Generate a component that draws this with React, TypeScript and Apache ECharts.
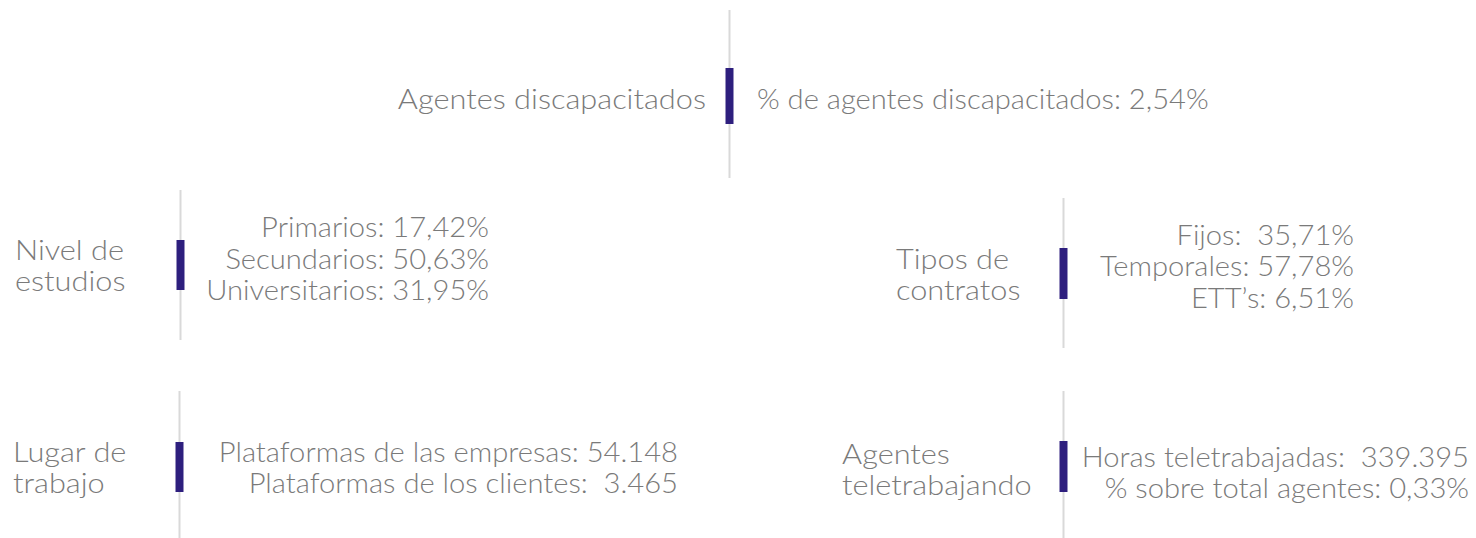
import React, { useEffect, useRef } from "react";
import * as echarts from "echarts";

// ---- Data ----
const panelTitles: string[][] = [
  ["Agentes discapacitados"],
  ["Nivel de", "estudios"],
  ["Tipos de", "contratos"],
  ["Lugar de", "trabajo"],
  ["Agentes", "teletrabajando"],
];

const panelLines: string[][] = [
  ["% de agentes discapacitados: 2,54%"],
  ["Primarios: 17,42%", "Secundarios: 50,63%", "Universitarios: 31,95%"],
  ["Fijos:  35,71%", "Temporales: 57,78%", "ETT’s: 6,51%"],
  ["Plataformas de las empresas: 54.148", "Plataformas de los clientes:  3.465"],
  ["Horas teletrabajadas:  339.395", "% sobre total agentes: 0,33%"],
];

// ---- Layout (positions only) ----
type Layout = {
  axisX: number; lineTop: number; lineBottom: number; barTop: number; barBottom: number;
  titleX: number; titleAlign: "left" | "right"; titleY: number;
  textX: number; textAlign: "left" | "right"; textY: number;
};
const layout: Layout[] = [
  { axisX: 729.5, lineTop: 10, lineBottom: 178, barTop: 68, barBottom: 124, titleX: 706, titleAlign: "right", titleY: 99, textX: 757, textAlign: "left", textY: 99 },
  { axisX: 180.5, lineTop: 190, lineBottom: 340, barTop: 240, barBottom: 290, titleX: 15, titleAlign: "left", titleY: 265.5, textX: 489, textAlign: "right", textY: 259 },
  { axisX: 1063.5, lineTop: 198, lineBottom: 348, barTop: 248, barBottom: 299, titleX: 896, titleAlign: "left", titleY: 274.5, textX: 1354, textAlign: "right", textY: 266.5 },
  { axisX: 179.5, lineTop: 391, lineBottom: 538, barTop: 442, barBottom: 492, titleX: 13, titleAlign: "left", titleY: 467.5, textX: 678, textAlign: "right", textY: 467.5 },
  { axisX: 1063.5, lineTop: 391, lineBottom: 538, barTop: 441, barBottom: 492, titleX: 842, titleAlign: "left", titleY: 469.5, textX: 1469, textAlign: "right", textY: 472.5 },
];

const TEXT_COLOR = "#7a7a7a";
const BAR_COLOR = "#2e1f7e";
const LINE_COLOR = "#d9d9d9";
const FONT = "Lato, 'Open Sans', sans-serif";
const FONT_SIZE = 26.5;
const LINE_HEIGHT = 31.5;
const TITLE_STRETCH = 1.16;
const VALUE_STRETCH = 1.1;

export default function App() {
  const ref = useRef<HTMLDivElement>(null);
  useEffect(() => {
    document.body.style.margin = "0";
    if (!ref.current) return;
    const chart = echarts.init(ref.current, undefined, { renderer: "svg" });
    const elements: any[] = [];
    const textStyle = (lines: string[], align: string) => ({
      text: lines.join("\n"),
      fill: TEXT_COLOR,
      fontFamily: FONT,
      fontSize: FONT_SIZE,
      fontWeight: 300,
      lineHeight: LINE_HEIGHT,
      align,
      verticalAlign: "middle",
    });
    layout.forEach((l, i) => {
      elements.push({
        type: "line",
        shape: { x1: l.axisX, y1: l.lineTop, x2: l.axisX, y2: l.lineBottom },
        style: { stroke: LINE_COLOR, lineWidth: 2 },
      });
      elements.push({
        type: "rect",
        shape: { x: l.axisX - 4, y: l.barTop, width: 8, height: l.barBottom - l.barTop },
        style: { fill: BAR_COLOR },
      });
      elements.push({
        type: "text", x: l.titleX, y: l.titleY, scaleX: TITLE_STRETCH,
        style: textStyle(panelTitles[i], l.titleAlign),
      });
      elements.push({
        type: "text", x: l.textX, y: l.textY, scaleX: VALUE_STRETCH,
        style: textStyle(panelLines[i], l.textAlign),
      });
    });
    chart.setOption({
      animation: false,
      backgroundColor: "#ffffff",
      graphic: { elements },
    });
    return () => chart.dispose();
  }, []);
  return <div ref={ref} style={{ width: 1476, height: 538 }} />;
}
